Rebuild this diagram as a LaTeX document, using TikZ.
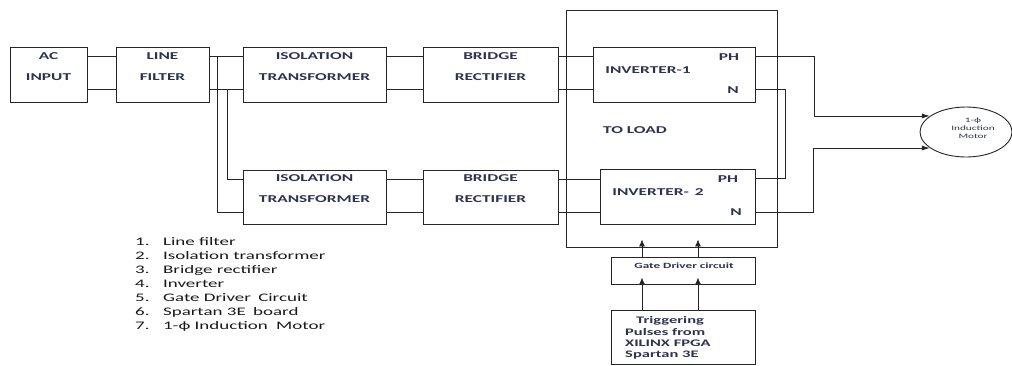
\documentclass[tikz,border=0pt]{standalone}
\usepackage{fontspec}
\setmainfont{Carlito}[FakeStretch=1.65]
\usetikzlibrary{shapes.geometric,arrows.meta}
\definecolor{ink}{RGB}{45,50,78}
\begin{document}
\begin{tikzpicture}[x=1pt, y=-1pt,
	blk/.style={draw=black!85, line width=.9pt, inner sep=0pt},
	boxtxt/.style={text=ink, font=\bfseries\fontsize{10.5}{21}\selectfont, align=center, inner sep=0pt},
	wire/.style={draw=black!85, line width=.9pt},
	sig/.style={wire, -{Latex[length=7pt,width=6pt]}}]
	\useasboundingbox (0,0) rectangle (1012,365);
	% upper chain
	\node[blk, minimum width=77, minimum height=55, label={[boxtxt,anchor=north,yshift=-5.5]north:AC\\INPUT}] (ac) at (48.5,74.5) {};
	\node[blk, minimum width=93, minimum height=55, label={[boxtxt,anchor=north,yshift=-5.5]north:LINE\\FILTER}] (lf) at (162.5,74.5) {};
	\node[blk, minimum width=143, minimum height=55, label={[boxtxt,anchor=north,yshift=-5.5]north:ISOLATION\\TRANSFORMER}] (iso1) at (314.5,74.5) {};
	\node[blk, minimum width=135, minimum height=55, label={[boxtxt,anchor=north,yshift=-5.5]north:BRIDGE\\RECTIFIER}] (rect1) at (490.5,74.5) {};
	% lower chain
	\node[blk, minimum width=143, minimum height=54, label={[boxtxt,anchor=north,yshift=-4.5]north:ISOLATION\\TRANSFORMER}] (iso2) at (314.5,197) {};
	\node[blk, minimum width=135, minimum height=54, label={[boxtxt,anchor=north,yshift=-4.5]north:BRIDGE\\RECTIFIER}] (rect2) at (490.5,197) {};
	% load side
	\node[blk, minimum width=211, minimum height=237] (load) at (671.5,128.5) {};
	\node[blk, minimum width=162, minimum height=55] (inv1) at (674,74.5) {};
	\node[blk, minimum width=155, minimum height=55] (inv2) at (677.5,196.5) {};
	\node[boxtxt] (inv1txt) at (648,70) {INVERTER-1};
	\node[boxtxt] (ph1) at (729,57) {PH}; \node[boxtxt] (n1) at (733,90) {N};
	\node[boxtxt] (toload) at (635,130) {TO LOAD};
	\node[boxtxt] (inv2txt) at (658,192) {INVERTER-\hspace{6pt}2};
	\node[boxtxt] (ph2) at (728,179) {PH}; \node[boxtxt] (n2) at (736,212) {N};
	\node[blk, minimum width=144, minimum height=27] (gate) at (683,270.5) {};
	\node[text=ink, font=\bfseries\fontsize{8}{9}\selectfont, inner sep=0pt] (gatetxt) at (684,266) {Gate Driver circuit};
	\node[blk, minimum width=144, minimum height=54] (trig) at (683,337) {};
	\node[text=ink, font=\bfseries\fontsize{10}{11.4}\selectfont, align=left, inner sep=0pt, anchor=north west] (trigtxt) at (625,316.5) {\hspace*{11pt}Triggering\\Pulses from\\XILINX FPGA\\Spartan 3E};
	\node[blk, ellipse, minimum width=92, minimum height=50] (motor) at (966,132) {};
	\node[text=ink, font=\fontsize{6.8}{8}\selectfont, align=center, inner sep=0pt] (motortxt) at (973,128) {1-ф\\Induction\\Motor};
	% wires
	\draw[wire] ([yshift=-10]ac.north east) -- ([yshift=-10]lf.north west); \draw[wire] ([yshift=13]ac.south east) -- ([yshift=13]lf.south west);
	\draw[wire] ([yshift=-10]lf.north east) -- ([yshift=-10]iso1.north west); \draw[wire] ([yshift=13]lf.south east) -- ([yshift=13]iso1.south west);
	\draw[wire] ([yshift=-10]iso1.north east) -- ([yshift=-10]rect1.north west); \draw[wire] ([yshift=13]iso1.south east) -- ([yshift=13]rect1.south west);
	\draw[wire] ([yshift=-10]rect1.north east) -- ([yshift=-10]inv1.north west); \draw[wire] ([yshift=13]rect1.south east) -- ([yshift=13]inv1.south west);
	\coordinate (ja) at ([xshift=8,yshift=-10]lf.north east); \coordinate (jb) at ([xshift=18,yshift=13]lf.south east);
	\draw[wire] (ja) |- ([yshift=12]iso2.south west); \draw[wire] (jb) |- ([yshift=-10]iso2.north west);
	\draw[wire] ([yshift=-10]iso2.north east) -- ([yshift=-10]rect2.north west); \draw[wire] ([yshift=12]iso2.south east) -- ([yshift=12]rect2.south west);
	\draw[wire] ([yshift=-10]rect2.north east) -- ([yshift=-11]inv2.north west); \draw[wire] ([yshift=12]rect2.south east) -- ([yshift=12]inv2.south west);
	\draw[wire] ([yshift=13]inv1.south east) -- ++(30,0) |- ([yshift=-10]inv2.north east);
	\draw[wire, -{Latex[length=8pt,width=5pt]}] ([yshift=-10]inv1.north east) -- ++(59,0) |- (motor.156);
	\draw[wire, -{Latex[length=8pt,width=5pt]}] ([yshift=12]inv2.south east) -- ++(58,0) |- (motor.204);
	% gate signals
	\draw[sig, shorten >=-8pt] ([xshift=-41]gate.north) -- ([xshift=-29.5]load.south);
	\draw[sig, shorten >=-8pt] ([xshift=15]gate.north) -- ([xshift=26.5]load.south);
	\draw[sig, shorten >=-7pt] ([xshift=-41]trig.north) -- ([xshift=-41]gate.south);
	\draw[sig, shorten >=-7pt] ([xshift=15]trig.north) -- ([xshift=15]gate.south);
	% legend
	\node[anchor=north west, inner sep=0pt, text=black!90, font=\fontsize{11.5}{14}\selectfont] (legend) at (135,235) {\begin{tabular}{@{}l@{\hspace{13.5pt}}l@{}}
		1. & Line filter\\ 2. & Isolation transformer\\ 3. & Bridge rectifier\\ 4. & Inverter\\
		5. & Gate Driver\hspace{3pt} Circuit\\ 6. & Spartan 3E\hspace{3pt} board\\ 7. & 1-ф Induction\hspace{4pt} Motor
	\end{tabular}};
\end{tikzpicture}
\end{document}
